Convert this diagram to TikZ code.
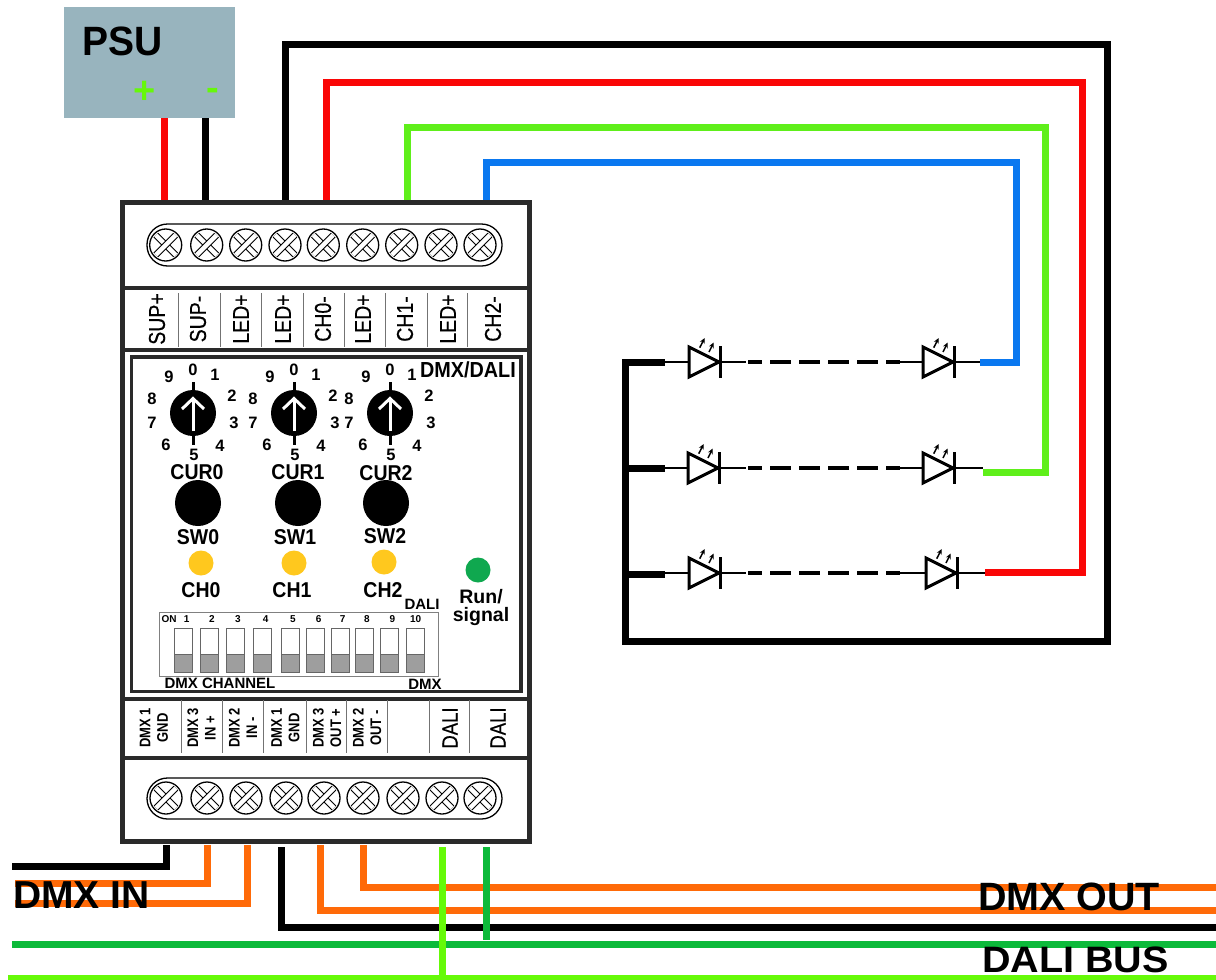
\documentclass[tikz,border=0pt]{standalone}
\usepackage{graphicx}
\usepackage{fontspec}
\setmainfont{Liberation Sans}
\newfontfamily\semifont[FakeBold=0.35]{Liberation Sans}
\usetikzlibrary{arrows.meta}
\definecolor{psubox}{HTML}{98B4BE}
\definecolor{plusgreen}{HTML}{66F80A}
\definecolor{wred}{HTML}{FA0606}
\definecolor{wgreen}{HTML}{5FEF1A}
\definecolor{wblue}{HTML}{0A78F0}
\definecolor{worange}{HTML}{FF6A08}
\definecolor{dali}{HTML}{0CBA3A}
\definecolor{dalilight}{HTML}{66FA08}
\definecolor{houseline}{HTML}{2A2A2A}
\definecolor{ledyellow}{HTML}{FFC81E}
\definecolor{ledgreen}{HTML}{0FA84F}
\newcommand\fsz[1]{\fontsize{#1}{#1}\selectfont}
\newcommand\tallr[1]{\scalebox{1}[1.18]{#1}}
\tikzset{
  wire/.style={line width=7,line join=miter},
  busw/.style={line width=7},
  lbl/.style={inner sep=0,outer sep=0,text=black},
  blbl/.style={lbl,font=\bfseries\fsz{#1}},
  rlbl/.style={lbl,font=\semifont\fsz{#1},rotate=90},
  rblbl/.style={lbl,font=\bfseries\fsz{#1},rotate=90,align=center},
  screwc/.style={circle,draw=black,line width=1.3,fill=white,minimum size=32,inner sep=0,outer sep=0},
  xcut/.style={draw=black,line width=1.1,double=white,double distance=4.4,shorten >=2,shorten <=2},
  sep/.style={draw=houseline,line width=4},
  tick/.style={draw=black!55,line width=0.9},
  knob/.style={circle,fill=black,inner sep=0,outer sep=0,minimum size=46},
  pushb/.style={circle,fill=black,inner sep=0,outer sep=0,minimum size=46},
  lamp/.style={circle,inner sep=0,outer sep=0,minimum size=25},
}
% \screwat{name}{x}{y}
\newcommand\screwat[3]{%
  \node[screwc] (#1) at (#2,#3) {};
  \draw[xcut] (#1.north west) -- (#1.south east);
  \draw[xcut] (#1.south west) -- (#1.north east);
}
% \ledat{name}{x}{y}
\newcommand\ledat[3]{%
  \coordinate (#1a) at (#2,#3);
  \coordinate (#1k) at ({#2+31},#3);
  \draw[line width=3,line join=miter] (#2,{#3-15}) -- ({#2+30},#3) -- (#2,{#3+15}) -- cycle;
  \draw[line width=3] ({#2+31},{#3-16}) -- ({#2+31},{#3+16});
  \draw[line width=1.5,-{Stealth[length=5.5,width=5]}] ({#2+10.7},{#3-14.3}) -- ({#2+15.7},{#3-24});
  \draw[line width=1.5,-{Stealth[length=5.5,width=5]}] ({#2+20},{#3-10}) -- ({#2+24.7},{#3-19.5});
}
% \dialat{name}{x}
\newcommand\dialat[2]{%
  \draw[line width=3] (#2,382) -- (#2,445);
  \node[knob] (#1) at (#2,413) {};
  \draw[white,line width=3] (#2,431) -- (#2,399);
  \draw[white,line width=3] ({#2-11},{409}) -- (#2,398.5) -- ({#2+11},409);
  \foreach \dig/\dx/\dy in {0/0/-43,1/22/-38,2/39/-17,3/41/10,4/27/33,5/1/42,6/-27/32,7/-41/10,8/-41/-14,9/-24/-36}
    \node[blbl=16.5] (#1n\dig) at ({#2+\dx},{413+\dy}) {\dig};
}
\begin{document}
\begin{tikzpicture}[x=1pt,y=-1pt]
\useasboundingbox (0,0) rectangle (1216,980);
\fill[white] (0,0) rectangle (1216,980);

% PSU
\node[fill=psubox,minimum width=171,minimum height=111,inner sep=0,outer sep=0] (psu) at (149.5,62.5) {};
\node[blbl=39,anchor=base west] (psut) at (82,55) {\scalebox{1}[1.05]{PSU}};
\node[blbl=38,text=plusgreen] (psup) at (145,92) {+};
\node[blbl=38,text=plusgreen] (psum) at (213,94) {-};

% Terminal points on the housing
\coordinate (pp) at (164,118);
\coordinate (pm) at (205,118);
\coordinate (t1) at (164,200);
\coordinate (t2) at (205,200);
\coordinate (t4) at (285,200);
\coordinate (t5) at (326,200);
\coordinate (t7) at (407,200);
\coordinate (t9) at (486,200);
\coordinate (b1) at (166,845);
\coordinate (b2) at (207,845);
\coordinate (b3) at (247,845);
\coordinate (b4) at (281,847);
\coordinate (b5) at (320,845);
\coordinate (b6) at (363,845);
\coordinate (b8) at (442,847);
\coordinate (b9) at (486,847);

% LED strings
\ledat{la}{689}{362}
\ledat{lb}{923}{362}
\ledat{lc}{688}{468}
\ledat{ld}{923}{468}
\ledat{le}{689}{573}
\ledat{lf}{926}{573}
\coordinate (ja) at (665,362);
\coordinate (jb) at (665,468);
\coordinate (jc) at (665,574);
\coordinate (ea) at (980,362);
\coordinate (eb) at (983,472);
\coordinate (ec) at (985,572);

\foreach \p/\q/\y/\r/\s in {la/lb/362/ja/ea, lc/ld/468/jb/eb, le/lf/573/jc/ec}{
  \draw[line width=2.6] (\r |- 0,\y) -- (\p a);
  \draw[line width=2.6] (\p k) -- (746,\y);
  \draw[line width=3.4,dash pattern=on 21 off 8,dash phase=7] (748,\y) -- (900,\y);
  \draw[line width=2.6] (900,\y) -- (\q a);
  \draw[line width=2.6] (\q k) -- (\s |- 0,\y);
}

% Wires, top
\draw[wire,wred] (pp) -- (t1);
\draw[wire,black] (pm) -- (t2);
\draw[wire,black] (t4) -- (285,44) -- (1107,44) -- (1107,641) -- (625,641) -- (625,362) -- (ja);
\draw[wire,black] (625,468) -- (jb);
\draw[wire,black] (625,574) -- (jc);
\draw[wire,wred] (t5) -- (326,82) -- (1082,82) -- (1082,572) -- (ec);
\draw[wire,wgreen] (t7) -- (407,127) -- (1045,127) -- (1045,472) -- (eb);
\draw[wire,wblue] (t9) -- (486,162) -- (1016,162) -- (1016,362) -- (ea);

% Wires, bottom
\coordinate (in1) at (12,866);
\coordinate (in2) at (15,883);
\coordinate (in3) at (15,903);
\coordinate (outa) at (1216,887);
\coordinate (outb) at (1216,910);
\coordinate (outc) at (1216,927);
\coordinate (busa) at (1216,944);
\coordinate (busal) at (12,944);
\coordinate (busb) at (1216,978);
\coordinate (busbl) at (8,978);
\draw[wire,black] (b1) -- (166,866) -- (in1);
\draw[wire,worange] (b2) -- (207,883) -- (in2);
\draw[wire,worange] (b3) -- (247,903) -- (in3);
\draw[wire,black] (b4) -- (281,927) -- (outc);
\draw[wire,worange] (b5) -- (320,910) -- (outb);
\draw[wire,worange] (b6) -- (363,887) -- (outa);
\draw[busw,dali] (busal) -- (busa);
\draw[wire,dali] (b9) -- (486,940);

% Housing
\draw[draw=houseline,line width=5,fill=white] (122.5,202.5) rectangle (529.5,841.5);
\draw[sep] (122,288) -- (530,288);
\draw[sep] (122,350) -- (530,350);
\draw[sep] (122,699) -- (530,699);
\draw[sep] (122,758) -- (530,758);
\draw[draw=houseline,line width=3.6] (131.5,357) rectangle (521,691.5);

% Terminal strips
\draw[line width=1.3,rounded corners=20.5,fill=white] (147,224) rectangle (502,266);
\draw[line width=1.3,rounded corners=20.5,fill=white] (147,778) rectangle (502,819);
\screwat{sa}{165.7}{245}
\screwat{sb}{206.7}{245}
\screwat{sc}{245.7}{245}
\screwat{sd}{285}{245}
\screwat{se}{323.3}{245}
\screwat{sf}{362.7}{245}
\screwat{sg}{401.7}{245}
\screwat{sh}{441}{245}
\screwat{si}{480}{245}
\screwat{ra}{166}{798}
\screwat{rb}{207}{798}
\screwat{rc}{246}{798}
\screwat{rd}{286}{798}
\screwat{re}{324}{798}
\screwat{rf}{363}{798}
\screwat{rg}{403}{798}
\screwat{rh}{442}{798}
\screwat{ri}{480}{798}

% Upper labels
\foreach \x in {178,220,261,303,344,385,427,467}
  \draw[tick] (\x,293) -- (\x,347);
\foreach \n/\x/\t in {ua/157/SUP+,ub/198/SUP-,uc/241/LED+,ud/283/LED+,ue/323/CH0-,uf/363/LED+,ug/405/CH1-,uh/448/LED+,ui/493/CH2-}
  \node[rlbl=19.5] (\n) at (\x,319) {\tallr{\t}};

% Dials
\dialat{da}{193}
\dialat{db}{294}
\dialat{dc}{390}
\node[blbl=19.8] (modet) at (468,370) {\scalebox{1}[1.1]{DMX/DALI}};
\node[blbl=19.5] (cura) at (197,472) {\scalebox{1}[1.1]{CUR0}};
\node[blbl=19.5] (curb) at (298,472) {\scalebox{1}[1.1]{CUR1}};
\node[blbl=19.5] (curc) at (386,473) {\scalebox{1}[1.1]{CUR2}};
\node[pushb] (pa) at (198,503) {};
\node[pushb] (pb) at (298,503) {};
\node[pushb] (pc) at (386,503) {};
\node[blbl=19.5] (swa) at (198,537) {\scalebox{1}[1.1]{SW0}};
\node[blbl=19.5] (swb) at (295,537) {\scalebox{1}[1.1]{SW1}};
\node[blbl=19.5] (swc) at (385,536) {\scalebox{1}[1.1]{SW2}};
\node[lamp,fill=ledyellow] (ya) at (201,563) {};
\node[lamp,fill=ledyellow] (yb) at (294,563) {};
\node[lamp,fill=ledyellow] (yc) at (384,562) {};
\node[lamp,fill=ledgreen] (gr) at (478,570) {};
\node[blbl=19.5] (cha) at (201,590) {\scalebox{1}[1.1]{CH0}};
\node[blbl=19.5] (chb) at (292,590) {\scalebox{1}[1.1]{CH1}};
\node[blbl=19.5] (chc) at (383,590) {\scalebox{1}[1.1]{CH2}};
\node[blbl=15] (dalit) at (422,604) {DALI};
\node[blbl=19.5] (runa) at (481,597) {Run/};
\node[blbl=19.5] (runb) at (481,616) {signal};

% DIP switch
\draw[draw=black!50,line width=0.9] (159,612) rectangle (438,676);
\node[blbl=10] (on) at (169,619) {ON};
\foreach \i/\x/\nx in {1/174.3/186.7,2/200.3/212,3/226/238,4/253.7/265.7,5/281/293,6/306.7/318.7,7/331/342.7,8/355.3/367,9/380.3/392.3,10/406/415.7}{
  \node[blbl=10] (dn\i) at (\nx,619) {\i};
  \fill[black!38] (\x,654) rectangle ({\x+18},672);
  \draw[draw=black!60,line width=0.9] (\x,628) rectangle ({\x+18},672);
  \draw[draw=black!60,line width=0.9] (\x,654) -- ({\x+18},654);
}
\node[blbl=15] (chan) at (220,683) {DMX CHANNEL};
\node[blbl=15] (dmxs) at (425,684) {DMX};

% Lower labels
\foreach \x in {181,222,263,306,346,387,429,469}
  \draw[tick] (\x,700) -- (\x,753);
\foreach \n/\x/\a/\b in {va/154/DMX 1/GND,vb/201.5/DMX 3/IN +,vc/243/DMX 2/IN -,vd/285.5/DMX 1/GND,ve/327/DMX 3/OUT +,vf/367/DMX 2/OUT -}
  \node[rblbl=13] (\n) at (\x,728) {\tallr{\a}\\[4.5pt]\tallr{\b}};
\node[rlbl=18.5] (vh) at (450,728) {\tallr{DALI}};
\node[rlbl=18.5] (vi) at (498,728) {\tallr{DALI}};

% Bottom titles
\node[blbl=39,anchor=base west] (dmxin) at (13,908) {DMX IN};
\node[blbl=39.5,anchor=base west] (dmxout) at (978,910) {DMX OUT};
\node[blbl=39.5,anchor=base west] (dalibus) at (982,972.5) {\scalebox{1}[0.93]{DALI BUS}};

% Light green bus lies over the text
\draw[busw,dalilight] (busbl) -- (busb);
\draw[wire,dalilight] (b8) -- (442,976);
\end{tikzpicture}
\end{document}
